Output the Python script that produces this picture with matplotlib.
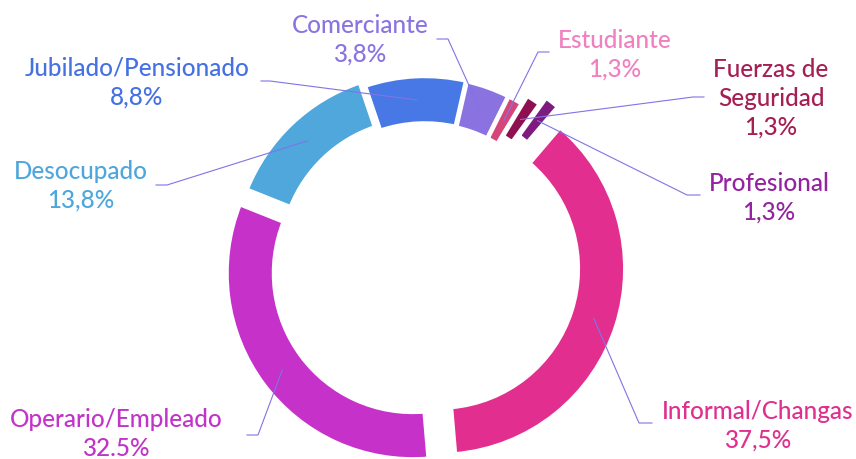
import numpy as np
import matplotlib
matplotlib.use("Agg")
import matplotlib.pyplot as plt

# ---------------- data ----------------
categories = ["Informal/Changas", "Operario/Empleado", "Desocupado",
              "Jubilado/Pensionado", "Comerciante", "Estudiante",
              "Fuerzas de Seguridad", "Profesional"]
values = [37.5, 32.5, 13.8, 8.8, 3.8, 1.3, 1.3, 1.3]
value_labels = ["37,5%", "32.5%", "13,8%", "8,8%", "3,8%", "1,3%", "1,3%", "1,3%"]
display_names = ["Informal/Changas", "Operario/Empleado", "Desocupado",
                 "Jubilado/Pensionado", "Comerciante", "Estudiante",
                 "Fuerzas de\nSeguridad", "Profesional"]

# ---------------- style ----------------
wedge_colors = ["#E22F8F", "#C531C9", "#4FA7DC", "#4878E6",
                "#8A72E0", "#D5467A", "#8F1051", "#7D1B80"]
label_colors = ["#E0308F", "#C233C9", "#4EA7DC", "#4571E3",
                "#8B74E2", "#F080C0", "#A51F52", "#9423A0"]
leader_color = "#7F74E6"
explode_px = [15, 15, 7.6, 2, 1.5, 1.5, 11, 20]

W, H = 856, 459
cx, cy = 424.8, 264.2          # pie centre in pixels (y down)
R_px = 186.25                  # outer radius incl. white edge
ring_px = 47.5                 # ring width incl. white edge
edge_px = 4.5                  # white gap between wedges
start_deg = 49.5               # startangle (counter-clockwise from +x)

# label layout (centre x, first baseline y) and leader knee/end, in pixels
label_pos = [(758, 419), (116, 427), (81, 179), (137, 76),
             (360, 33), (614.5, 48), (771, 77), (769, 191)]
leader_knee = [(639, 423), (258, 435), (167, 185), (270, 81),
               (448, 39), (538, 52), (693, 97), (687, 195)]
leader_end = [(652, 423), (247, 435), (156, 185), (261, 81),
              (437, 39), (549, 52), (704, 97), (700, 195)]
line_gap = 29.0
font_family = ["Lato", "DejaVu Sans"]
font_size = 17.5

# ---------------- figure ----------------
fig = plt.figure(figsize=(W / 100, H / 100), dpi=100)
ax = fig.add_axes([0, 0, 1, 1])
explode = [d / R_px for d in explode_px]
wedges, _ = ax.pie(values, explode=explode, colors=wedge_colors,
                   startangle=start_deg, counterclock=False, radius=1.0,
                   center=(0, 0),
                   wedgeprops=dict(width=ring_px / R_px, edgecolor="white",
                                   linewidth=edge_px * 72 / 100))
ax.set_aspect("auto")
ax.set_xlim(-cx / R_px, (W - cx) / R_px)
ax.set_ylim(-(H - cy) / R_px, cy / R_px)
ax.axis("off")


def to_px(xd, yd):
    return cx + xd * R_px, cy - yd * R_px


ax2 = fig.add_axes([0, 0, 1, 1])
ax2.set_xlim(0, W)
ax2.set_ylim(H, 0)
ax2.axis("off")
ax2.patch.set_alpha(0)

for i, w in enumerate(wedges):
    th = np.deg2rad((w.theta1 + w.theta2) / 2)
    wx, wy = w.center
    rmid = w.r - w.width / 2
    sx, sy = to_px(wx + rmid * np.cos(th), wy + rmid * np.sin(th))
    kx, ky = leader_knee[i]
    ex, ey = leader_end[i]
    ax2.plot([sx, kx, ex], [sy, ky, ey], color=leader_color, lw=0.8,
             solid_joinstyle="miter")
    lines = display_names[i].split("\n") + [value_labels[i]]
    lx, ly = label_pos[i]
    for j, t in enumerate(lines):
        ax2.text(lx, ly + j * line_gap, t, ha="center", va="baseline",
                 fontsize=font_size, fontweight="medium",
                 color=label_colors[i], family=font_family)

fig.savefig("out.png", dpi=100, facecolor="white")
